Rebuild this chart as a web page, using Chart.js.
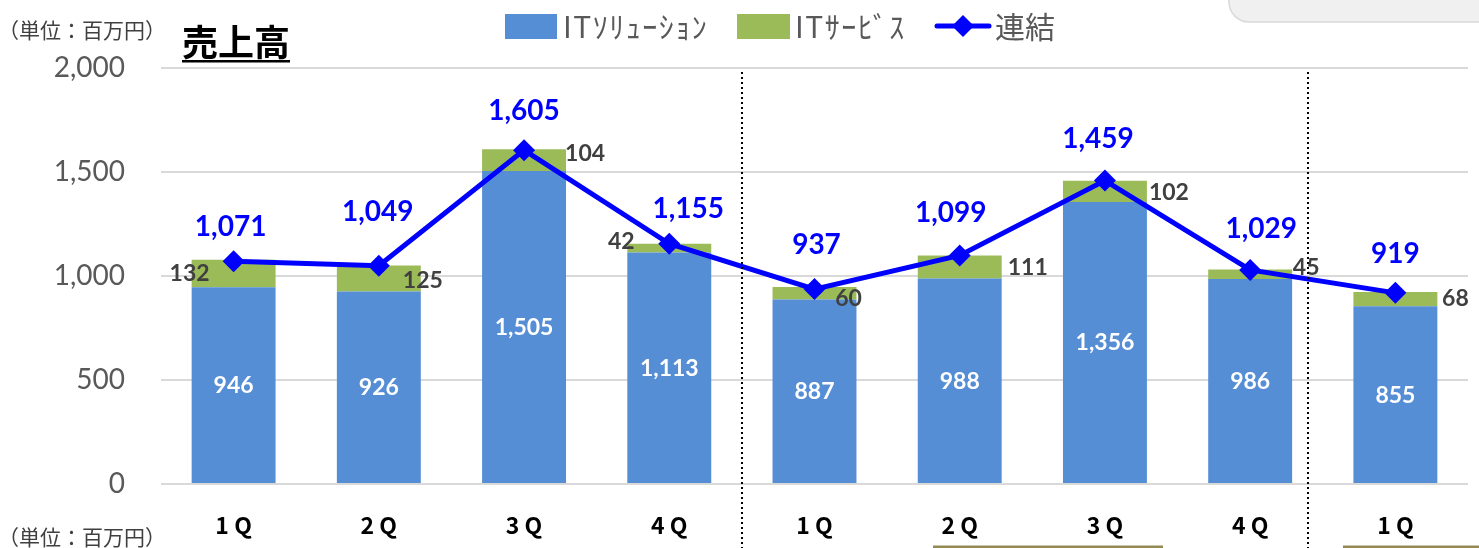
<!DOCTYPE html>
<html>
<head>
<meta charset="utf-8">
<script src="https://cdn.jsdelivr.net/npm/chart.js@4/dist/chart.umd.min.js"></script>
<style>
  html, body { margin: 0; padding: 0; background: #fff; }
  #wrap { width: 1479px; height: 548px; }
</style>
</head>
<body>
<div id="wrap"><canvas id="sales" width="1479" height="548"></canvas></div>
<script>
// data (百万円)
const quarters = ['1 Q', '2 Q', '3 Q', '4 Q', '1 Q', '2 Q', '3 Q', '4 Q', '1 Q'];
const itSolution = [946, 926, 1505, 1113, 887, 988, 1356, 986, 855];
const itService = [132, 125, 104, 42, 60, 111, 102, 45, 68];
const consolidated = [1071, 1049, 1605, 1155, 937, 1099, 1459, 1029, 919];
const yTicks = [0, 500, 1000, 1500, 2000];
// fiscal-year dividers, in category units
const dividers = [3.5, 7.4];

const BLUE = '#558ed5', GREEN = '#9bbb59', LINE = '#0000ff';
const NUM = 'Lato, "Noto Sans", sans-serif';
const JP = '"Noto Sans CJK JP", sans-serif';
const fmt = v => v.toLocaleString('en-US');

// nudges so labels sit where the original put them
const svcDx = [-44, 44, 61, -48, 34, 68, 64, 56, 60];
const svcDy = [0, 2, -7, -7, 5, 1, 1, -7, -1];
const totDx = [-3, -1, 0, 19, 2, -9, -7, 11, 0];
const totDy = [-34, -54, -39, -35, -44, -42, -42, -41, -39];

function diamond(ctx, x, y, r) {
  ctx.beginPath();
  ctx.moveTo(x - r, y); ctx.lineTo(x, y - r); ctx.lineTo(x + r, y); ctx.lineTo(x, y + r);
  ctx.closePath(); ctx.fill();
}

const decor = {
  id: 'decor',
  beforeDraw(chart) {
    const ctx = chart.ctx;
    ctx.save();
    ctx.fillStyle = '#fff';
    ctx.fillRect(0, 0, chart.width, chart.height);
    // grey tab cut off at top right
    ctx.beginPath();
    ctx.moveTo(1229, -2);
    ctx.lineTo(1229, 2);
    ctx.arcTo(1229, 22, 1249, 22, 20);
    ctx.lineTo(1485, 22);
    ctx.lineTo(1485, -2);
    ctx.closePath();
    ctx.fillStyle = '#f0f0f0';
    ctx.fill();
    ctx.strokeStyle = '#d9d9d9';
    ctx.lineWidth = 1.5;
    ctx.stroke();
    ctx.restore();
  },
  afterDatasetsDraw(chart) {
    const ctx = chart.ctx, x = chart.scales.x, y = chart.scales.y;
    ctx.save();
    ctx.textAlign = 'center';
    ctx.textBaseline = 'middle';

    ctx.font = `bold 23px ${NUM}`;
    ctx.fillStyle = '#fff';
    itSolution.forEach((v, i) => ctx.fillText(fmt(v), x.getPixelForValue(i), y.getPixelForValue(v / 2)));

    ctx.font = `bold 23px ${NUM}`;
    ctx.fillStyle = '#404040';
    itService.forEach((v, i) => ctx.fillText(fmt(v), x.getPixelForValue(i) + svcDx[i],
      y.getPixelForValue(itSolution[i] + v / 2) + svcDy[i]));

    ctx.font = `bold 28px ${NUM}`;
    ctx.fillStyle = LINE;
    consolidated.forEach((v, i) => ctx.fillText(fmt(v), x.getPixelForValue(i) + totDx[i],
      y.getPixelForValue(v) + totDy[i]));
    ctx.restore();
  },
  afterDraw(chart) {
    const ctx = chart.ctx, x = chart.scales.x;
    const step = x.getPixelForValue(1) - x.getPixelForValue(0);
    ctx.save();

    // dotted year dividers
    ctx.strokeStyle = '#000';
    ctx.lineWidth = 2;
    ctx.setLineDash([2, 3]);
    dividers.forEach(d => {
      const px = Math.round(x.getPixelForValue(0) + d * step);
      ctx.beginPath();
      ctx.moveTo(px, 72);
      ctx.lineTo(px, chart.height);
      ctx.stroke();
    });
    ctx.setLineDash([]);

    // olive rules peeking in at the bottom
    ctx.strokeStyle = '#948a54';
    ctx.lineWidth = 3;
    ctx.beginPath();
    ctx.moveTo(933, 547); ctx.lineTo(1163, 547);
    ctx.moveTo(1343, 547); ctx.lineTo(1479, 547);
    ctx.stroke();

    // units
    ctx.textBaseline = 'middle';
    ctx.textAlign = 'left';
    ctx.fillStyle = '#404040';
    ctx.font = `21px ${JP}`;
    ctx.fillText('（単位：百万円）', -2, 30);
    ctx.fillText('（単位：百万円）', -2, 537);

    // title
    ctx.fillStyle = '#000';
    ctx.font = `bold 36px ${JP}`;
    ctx.fillText('売上高', 182, 42);
    const tw = ctx.measureText('売上高').width;
    ctx.fillRect(182, 60, tw, 2.5);

    // legend
    ctx.font = `30px ${JP}`;
    ctx.fillStyle = BLUE;
    ctx.fillRect(505, 14, 52, 25);
    ctx.fillStyle = '#595959';
    ctx.letterSpacing = '1.5px';
    ctx.fillText('ITｿﾘｭｰｼｮﾝ', 563, 27);
    ctx.fillStyle = GREEN;
    ctx.fillRect(737, 14, 53, 25);
    ctx.fillStyle = '#595959';
    ctx.fillText('ITｻｰﾋﾞｽ', 795, 27);
    ctx.letterSpacing = '0px';
    ctx.strokeStyle = LINE;
    ctx.lineWidth = 5;
    ctx.lineCap = 'round';
    ctx.beginPath();
    ctx.moveTo(937, 26); ctx.lineTo(989, 26);
    ctx.stroke();
    ctx.fillStyle = LINE;
    diamond(ctx, 963, 26, 11);
    ctx.fillStyle = '#595959';
    ctx.fillText('連結', 995, 27);
    ctx.restore();
  }
};

new Chart(document.getElementById('sales'), {
  data: {
    labels: quarters,
    datasets: [
      { type: 'line', label: '連結', data: consolidated, stack: 'total', order: 0,
        borderColor: LINE, backgroundColor: LINE, borderWidth: 5,
        pointStyle: 'rectRot', pointRadius: 11, pointBorderWidth: 0, tension: 0 },
      { type: 'bar', label: 'ITｿﾘｭｰｼｮﾝ', data: itSolution, stack: 'bars', order: 1,
        backgroundColor: BLUE, barPercentage: 0.578, categoryPercentage: 1 },
      { type: 'bar', label: 'ITｻｰﾋﾞｽ', data: itService, stack: 'bars', order: 1,
        backgroundColor: GREEN, barPercentage: 0.578, categoryPercentage: 1 }
    ]
  },
  options: {
    responsive: false,
    animation: false,
    devicePixelRatio: 1,
    layout: { padding: { top: 68, right: 7, left: 0, bottom: 0 } },
    plugins: { legend: { display: false }, tooltip: { enabled: false } },
    scales: {
      x: {
        stacked: true,
        grid: { display: false },
        border: { display: false },
        ticks: { color: '#000', font: { family: JP, size: 23, weight: 'bold' }, padding: 19 },
        afterFit: s => { s.height = 64; }
      },
      y: {
        stacked: true,
        min: 0, max: 2000,
        afterBuildTicks: s => { s.ticks = yTicks.map(v => ({ value: v })); },
        grid: { color: '#d9d9d9', lineWidth: 2, drawTicks: false },
        border: { display: false },
        ticks: { color: '#595959', font: { family: NUM, size: 28 }, padding: 36, callback: v => fmt(v) },
        afterFit: s => { s.width = 161; }
      }
    }
  },
  plugins: [decor]
});
</script>
</body>
</html>
